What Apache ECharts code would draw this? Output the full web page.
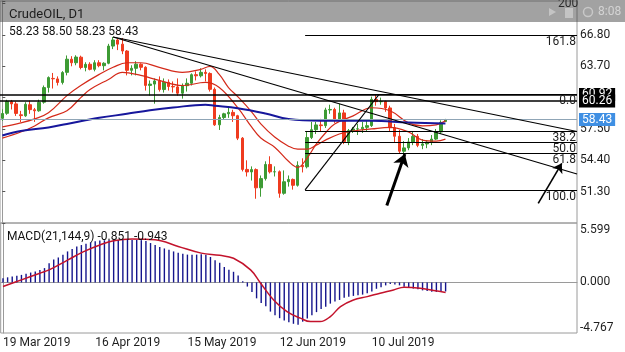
<!DOCTYPE html>
<html>
<head>
<meta charset="utf-8">
<title>CrudeOIL, D1</title>
<script src="https://cdn.jsdelivr.net/npm/echarts@6/dist/echarts.min.js"></script>
<style>
  html, body { margin: 0; padding: 0; background: #fff; }
  #chart { width: 625px; height: 352px; }
</style>
</head>
<body>
<div id="chart"></div>
<script>
// daily bars, 19 Mar 2019 .. 1 Aug 2019
const dates = [
  '19 Mar 2019','20 Mar 2019','21 Mar 2019','22 Mar 2019','25 Mar 2019','26 Mar 2019','27 Mar 2019','28 Mar 2019','29 Mar 2019',
  '1 Apr 2019','2 Apr 2019','3 Apr 2019','4 Apr 2019','5 Apr 2019','8 Apr 2019','9 Apr 2019','10 Apr 2019','11 Apr 2019','12 Apr 2019',
  '15 Apr 2019','16 Apr 2019','17 Apr 2019','18 Apr 2019','22 Apr 2019','23 Apr 2019','24 Apr 2019','25 Apr 2019','26 Apr 2019','29 Apr 2019','30 Apr 2019',
  '1 May 2019','2 May 2019','3 May 2019','6 May 2019','7 May 2019','8 May 2019','9 May 2019','10 May 2019','13 May 2019','14 May 2019',
  '15 May 2019','16 May 2019','17 May 2019','20 May 2019','21 May 2019','22 May 2019','23 May 2019','24 May 2019','27 May 2019','28 May 2019',
  '29 May 2019','30 May 2019','31 May 2019',
  '3 Jun 2019','4 Jun 2019','5 Jun 2019','6 Jun 2019','7 Jun 2019','10 Jun 2019','11 Jun 2019','12 Jun 2019','13 Jun 2019','14 Jun 2019',
  '17 Jun 2019','18 Jun 2019','19 Jun 2019','20 Jun 2019','21 Jun 2019','24 Jun 2019','25 Jun 2019','26 Jun 2019','27 Jun 2019','28 Jun 2019',
  '1 Jul 2019','2 Jul 2019','3 Jul 2019','4 Jul 2019','5 Jul 2019','8 Jul 2019','9 Jul 2019','10 Jul 2019','11 Jul 2019','12 Jul 2019',
  '15 Jul 2019','16 Jul 2019','17 Jul 2019','18 Jul 2019','19 Jul 2019','22 Jul 2019','23 Jul 2019','24 Jul 2019','25 Jul 2019','26 Jul 2019',
  '29 Jul 2019','30 Jul 2019','31 Jul 2019',
  '1 Aug 2019'
];
const opens = [
  58.55,59.05,60.20,59.98,58.90,58.80,59.90,59.40,59.30,
  60.15,61.60,62.50,62.45,62.10,63.10,64.40,64.05,64.60,63.58,63.90,63.40,64.05,63.76,64.00,65.70,66.30,65.89,65.21,63.30,63.50,
  63.90,63.60,61.81,61.94,62.25,61.40,62.12,61.70,61.66,61.04,61.78,62.02,62.87,62.76,63.10,62.99,61.42,57.91,58.63,59.00,59.14,58.81,56.59,
  53.50,53.25,53.48,51.68,52.59,53.99,53.26,53.27,51.14,52.28,52.51,51.93,53.90,53.76,56.65,57.43,57.90,57.83,59.38,59.43,
  58.47,59.09,56.25,57.34,57.50,57.51,57.66,57.83,60.43,60.20,60.21,59.58,57.62,56.78,55.30,55.63,56.22,56.77,55.88,56.02,56.20,56.50,57.20,
  58.23
];
const highs = [
  59.45,60.39,60.37,60.21,59.29,60.15,60.30,59.58,60.40,
  61.80,62.70,63.04,62.70,63.22,64.77,64.70,64.79,64.75,64.10,64.10,64.30,64.30,64.10,65.92,66.60,66.40,66.50,65.30,63.80,64.20,
  64.00,63.70,62.30,62.50,62.70,62.50,62.40,62.20,62.50,62.00,62.50,63.00,63.20,63.50,63.40,63.10,61.60,58.90,59.10,59.70,59.40,58.90,56.70,
  54.40,53.80,53.60,52.90,54.30,54.80,53.80,53.40,53.40,52.90,52.60,54.30,54.60,57.30,58.20,58.20,58.50,59.60,59.90,59.60,
  60.00,59.40,57.50,57.70,58.00,58.20,58.30,60.70,60.94,60.60,60.30,59.80,58.00,57.40,56.30,56.60,57.20,57.00,56.50,56.40,56.90,57.50,58.35,
  58.50
];
const lows = [
  58.30,58.90,59.43,58.79,58.19,58.70,59.00,58.20,59.20,
  60.00,61.10,61.50,61.80,61.90,62.80,63.70,63.80,63.40,63.20,63.30,63.20,63.60,63.30,63.90,65.40,65.30,64.90,62.80,62.80,62.80,
  63.30,61.30,60.80,60.00,61.20,61.10,61.30,61.10,60.80,60.50,61.20,61.80,62.30,62.60,62.20,61.20,57.80,57.40,58.40,58.60,58.20,56.40,53.30,
  52.80,52.40,50.60,50.80,52.40,53.10,52.80,50.70,51.00,51.80,51.50,51.80,53.20,53.60,56.50,57.00,57.20,57.60,59.00,58.10,
  58.30,56.00,55.90,57.10,56.90,57.10,57.20,57.70,59.80,59.90,59.20,57.20,56.20,55.10,55.00,55.40,55.90,55.70,55.50,55.60,55.90,56.40,57.00,
  58.23
];
const closes = [
  59.03,60.23,59.98,59.04,58.82,59.94,59.41,59.30,60.14,
  61.59,62.58,62.46,62.10,63.08,64.40,64.05,64.61,63.58,63.89,63.40,64.05,63.76,64.00,65.70,66.30,65.89,65.21,63.30,63.50,63.91,
  63.60,61.81,61.94,62.25,61.40,62.12,61.70,61.66,61.04,61.78,62.02,62.87,62.76,63.10,62.99,61.42,57.91,58.63,59.00,59.14,58.81,56.59,53.50,
  53.25,53.48,51.68,52.59,53.99,53.26,53.27,51.14,52.28,52.51,51.93,53.90,53.76,56.65,57.43,57.90,57.83,59.38,59.43,58.47,
  59.09,56.25,57.34,57.50,57.51,57.66,57.83,60.43,60.20,60.21,59.58,57.62,56.78,55.30,55.63,56.22,56.77,55.88,56.02,56.20,56.50,57.20,58.15,
  58.43
];
const futureSlots = 28;   // empty room right of the last bar
const labelEvery = 20;    // date label every 20 bars

// moving averages: [bar, price]
const maRed1 = [[0,57.7],[4,58.1],[7,58.5],[10,59.1],[14,60.8],[17,61.8],[21,62.9],[24,63.6],[27,64.05],[30,64.05],[34,63.6],[39,63.1],[43,63.4],[45,63.7],[47,62.9],[49,61.6],[51,60.7],[54,59.2],[56,58.0],[59,56.7],[62,55.8],[64,55.5],[66,55.5],[68,55.9],[70,56.4],[73,57.0],[76,57.3],[80,57.5],[84,57.65],[88,57.2],[91,56.4],[94,56.3],[96,56.5]];
const maRed2 = [[0,56.6],[4,57.2],[7,57.8],[10,58.6],[14,59.3],[17,60.6],[19,61.4],[23,62.4],[26,63.1],[30,62.8],[34,62.3],[39,61.8],[44,62.1],[47,61.6],[51,59.6],[54,57.7],[56,56.6],[59,55.7],[62,54.3],[64,53.7],[66,54.6],[68,56.0],[70,57.1],[72,58.0],[76,58.8],[80,59.6],[84,59.3],[88,58.1],[91,57.8],[94,57.9],[96,58.3]];
const maBlue = [[0,56.85],[4,57.3],[10,57.65],[14,58.0],[21,58.6],[27,59.0],[32,59.35],[37,59.62],[44,59.89],[46,59.8],[51,59.55],[57,59.03],[62,58.48],[69,58.31],[80,58.31],[88,58.14],[96,58.04]];

// MACD(21,144,9)
const macdMain = [
  0.40,0.48,0.56,0.63,0.71,0.82,0.93,1.04,1.18,1.35,1.80,2.15,2.35,2.60,2.92,3.15,3.39,3.52,3.65,3.78,
  3.87,3.95,3.97,4.00,4.00,4.00,4.00,4.00,4.00,4.00,3.98,3.90,3.71,3.52,3.33,3.20,3.07,2.92,2.80,2.70,
  2.62,2.60,2.62,2.65,2.60,2.40,2.10,1.85,1.45,1.20,1.00,0.65,0.10,-0.39,-0.90,-1.50,-1.95,-2.25,-2.75,-3.10,
  -3.37,-3.60,-3.75,-3.90,-4.00,-3.70,-3.40,-3.10,-2.80,-2.50,-2.30,-2.00,-1.80,-1.65,-1.45,-1.35,-1.27,-1.20,-1.15,-1.02,
  -0.85,-0.60,-0.45,-0.28,-0.15,-0.20,-0.28,-0.40,-0.50,-0.58,-0.65,-0.75,-0.82,-0.88,-0.90,-0.88,-0.851
];
const macdSignal = [[0,-0.39],[4,0.24],[8,0.87],[10,1.18],[14,2.1],[17.5,2.9],[21,3.53],[24,3.93],[28,4.08],[33,4.02],[38,3.39],[43,2.76],[47,2.55],[50,2.28],[53.7,1.18],[55.8,-0.03],[58.7,-1.65],[61.6,-2.75],[64.5,-3.37],[66.7,-3.69],[68.8,-3.69],[71,-3.22],[73.2,-2.28],[76,-1.65],[79,-1.34],[81.8,-1.02],[84.7,-0.71],[87,-0.45],[90.5,-0.55],[93.4,-0.77],[96,-0.943]];

// price axis
const priceMin = 48.2, priceMax = 70.157, priceStep = 3.1;
const priceLabels = ['51.30','54.40','57.50','63.70','66.80'];
const macdMin = -4.767, macdMax = 5.599;

// drawn objects (bar index, price)
const hLines = [60.92, 60.26];
const bidPrice = 58.43;
const fibNames = ['161.8','0.0','38.2','50.0','61.8','100.0'];
const fibPrices = [66.77, 60.92, 57.29, 56.17, 55.08, 51.47];
const fibStartBar = 65.6;
const trendLines = [[24,66.60,124.5,57.25],[24,66.60,124.5,53.05],[65.6,51.47,81.6,60.91]];
const arrowBig = [83.3,49.92,87.2,55.02];
const arrowSmall = [116.1,50.15,121.2,54.10];

const header = ['58.23','58.50','58.23','58.43'];
const macdHeader = 'MACD(21,144,9) -0.851 -0.943';

const totalSlots = dates.length + futureSlots;
const categories = dates.concat(new Array(futureSlots).fill(''));
const lastEdge = totalSlots - 0.5;
const candles = dates.map((d, i) => [opens[i], closes[i], lows[i], highs[i]]);
const showDate = (i) => i % labelEvery === 0 && i < dates.length;

const font = 'Roboto';
const seg = (s) => [{ coord: [s[0], s[1]] }, { coord: [s[2], s[3]] }];
const arrow = (s, size) => [{ coord: [s[0], s[1]], symbol: 'none' }, { coord: [s[2], s[3]], symbol: 'arrow', symbolSize: size }];

let myChart = echarts.init(document.getElementById('chart'));
myChart.setOption({
  animation: false,
  textStyle: { fontFamily: font },
  title: [
    { text: 'CrudeOIL, D1', left: 4, top: 3, z: 200, textStyle: { fontSize: 13, fontWeight: 'normal', color: '#1e1e1e', fontFamily: font } },
    { text: header.join(' '), left: 4, top: 21, z: 200, textStyle: { fontSize: 12, fontWeight: 'normal', color: '#111', fontFamily: font } },
    { text: macdHeader, left: 2, top: 226, textStyle: { fontSize: 12, fontWeight: 'normal', color: '#111', fontFamily: font } }
  ],
  grid: [
    { left: 0, right: 48, top: 1, height: 222, show: true, borderColor: '#9a9a9a', borderWidth: 1 },
    { left: 0, right: 48, top: 223, height: 110, show: true, borderColor: '#9a9a9a', borderWidth: 1 }
  ],
  xAxis: [
    { type: 'category', gridIndex: 0, data: categories, boundaryGap: true, show: false },
    {
      type: 'category', gridIndex: 1, data: categories, boundaryGap: true,
      axisLine: { lineStyle: { color: '#9a9a9a' } },
      axisTick: { interval: showDate, alignWithLabel: true, length: 5, lineStyle: { color: '#777' } },
      axisLabel: { interval: showDate, align: 'left', color: '#1e1e1e', fontSize: 12, margin: 4, fontFamily: font }
    },
    { type: 'value', gridIndex: 0, min: -0.5, max: lastEdge, show: false },
    { type: 'value', gridIndex: 1, min: -0.5, max: lastEdge, show: false }
  ],
  yAxis: [
    {
      type: 'value', gridIndex: 0, position: 'right', min: priceMin, max: priceMax, interval: priceStep,
      splitLine: { show: false },
      axisLine: { show: true, lineStyle: { color: '#9a9a9a' } },
      axisTick: { show: true, length: 3, lineStyle: { color: '#555' } },
      axisLabel: {
        color: '#1e1e1e', fontSize: 12, margin: 3, fontFamily: font,
        formatter: (v) => priceLabels.includes(v.toFixed(2)) ? v.toFixed(2) : ''
      }
    },
    {
      type: 'value', gridIndex: 1, position: 'right', min: macdMin, max: macdMax, interval: -macdMin,
      splitLine: { show: false },
      axisLine: { show: true, lineStyle: { color: '#9a9a9a' } },
      axisTick: { show: false },
      axisLabel: {
        color: '#1e1e1e', fontSize: 12, margin: 3, fontFamily: font, showMinLabel: true, showMaxLabel: true,
        formatter: (v) => {
          if (Math.abs(v - macdMax) < 0.001) return '{t|' + macdMax.toFixed(3) + '}';
          if (Math.abs(v - macdMin) < 0.001) return '{b|' + macdMin.toFixed(3) + '}';
          if (Math.abs(v) < 0.001) return '0.000';
          return '';
        },
        rich: { t: { fontSize: 12, padding: [14, 0, 0, 0] }, b: { fontSize: 12, padding: [0, 0, 10, 0] } }
      }
    }
  ],
  graphic: [
    { type: 'text', left: 558, top: -2, z: 50, style: { text: '200', fill: '#111', font: '12px Roboto' } },
    { type: 'rect', shape: { x: 0, y: 0, width: 625, height: 22 }, style: { fill: 'rgba(70,70,70,0.5)' }, z: 100 },
    { type: 'polygon', shape: { points: [[549, 8], [556, 12], [549, 16]] }, style: { fill: 'rgba(225,225,225,0.55)' }, z: 110 },
    { type: 'rect', shape: { x: 565, y: 8, width: 8, height: 10 }, style: { fill: 'rgba(225,225,225,0.55)' }, z: 110 },
    { type: 'circle', shape: { cx: 588, cy: 12, r: 4.5 }, style: { fill: 'none', stroke: 'rgba(225,225,225,0.6)', lineWidth: 1.5 }, z: 110 },
    { type: 'text', left: 598, top: 6, z: 120, style: { text: '8:08', fill: '#d4d4d4', font: '12px Roboto' } }
  ],
  series: [
    {
      name: 'CrudeOIL', type: 'candlestick', xAxisIndex: 0, yAxisIndex: 0, data: candles, barWidth: 3,
      itemStyle: { color: '#3d9b34', color0: '#ef3b1f', borderColor: '#3d9b34', borderColor0: '#ef3b1f', borderWidth: 1 },
      markLine: {
        silent: true, symbol: 'none',
        lineStyle: { color: '#000', width: 1.5, type: 'solid' },
        label: { position: 'end', distance: 2, color: '#fff', backgroundColor: '#000', padding: [1, 3, 0, 3], fontSize: 12, lineHeight: 12, fontFamily: font, formatter: (p) => p.value.toFixed(2) },
        data: hLines.map((v) => ({ yAxis: v })).concat([{
          yAxis: bidPrice,
          lineStyle: { color: '#8fa5b6', width: 1 },
          label: { backgroundColor: '#3f8fe3', color: '#fff' }
        }])
      }
    },
    { name: 'MA1', type: 'line', xAxisIndex: 2, yAxisIndex: 0, data: maRed1, smooth: 0.4, showSymbol: false, lineStyle: { color: '#d42a1a', width: 1.2 } },
    { name: 'MA2', type: 'line', xAxisIndex: 2, yAxisIndex: 0, data: maRed2, smooth: 0.4, showSymbol: false, lineStyle: { color: '#d42a1a', width: 1.2 } },
    { name: 'MA3', type: 'line', xAxisIndex: 2, yAxisIndex: 0, data: maBlue, smooth: 0.4, showSymbol: false, lineStyle: { color: '#17179c', width: 2 } },
    {
      name: 'Fibo', type: 'line', xAxisIndex: 2, yAxisIndex: 0, data: [],
      markLine: {
        silent: true, symbol: 'none',
        lineStyle: { color: '#000', width: 1.2, type: 'solid' },
        label: { position: 'insideEndBottom', distance: 1, color: '#1e1e1e', fontSize: 12, fontFamily: font, formatter: (p) => p.name },
        data: fibPrices.map((p, i) => [{ name: fibNames[i], coord: [fibStartBar, p] }, { coord: [lastEdge, p] }])
      }
    },
    {
      name: 'Trend', type: 'line', xAxisIndex: 2, yAxisIndex: 0, data: [],
      markLine: {
        silent: true, symbol: 'none', label: { show: false },
        lineStyle: { color: '#000', width: 1.2, type: 'solid' },
        data: trendLines.map(seg)
      }
    },
    {
      name: 'Arrow1', type: 'line', xAxisIndex: 2, yAxisIndex: 0, data: [],
      markLine: {
        silent: true, symbol: ['none', 'arrow'], symbolSize: 12, label: { show: false },
        itemStyle: { color: '#000' },
        lineStyle: { color: '#000', width: 3, type: 'solid' },
        data: [arrow(arrowBig, 12)]
      }
    },
    {
      name: 'Arrow2', type: 'line', xAxisIndex: 2, yAxisIndex: 0, data: [],
      markLine: {
        silent: true, symbol: ['none', 'arrow'], symbolSize: 9, label: { show: false },
        itemStyle: { color: '#000' },
        lineStyle: { color: '#000', width: 1.6, type: 'solid' },
        data: [arrow(arrowSmall, 9)]
      }
    },
    { name: 'MACD', type: 'bar', xAxisIndex: 1, yAxisIndex: 1, data: macdMain, barWidth: 1.4, itemStyle: { color: '#14148c' } },
    { name: 'Signal', type: 'line', xAxisIndex: 3, yAxisIndex: 1, data: macdSignal, smooth: 0.4, showSymbol: false, lineStyle: { color: '#c3132c', width: 1.5 } }
  ]
});
</script>
</body>
</html>
